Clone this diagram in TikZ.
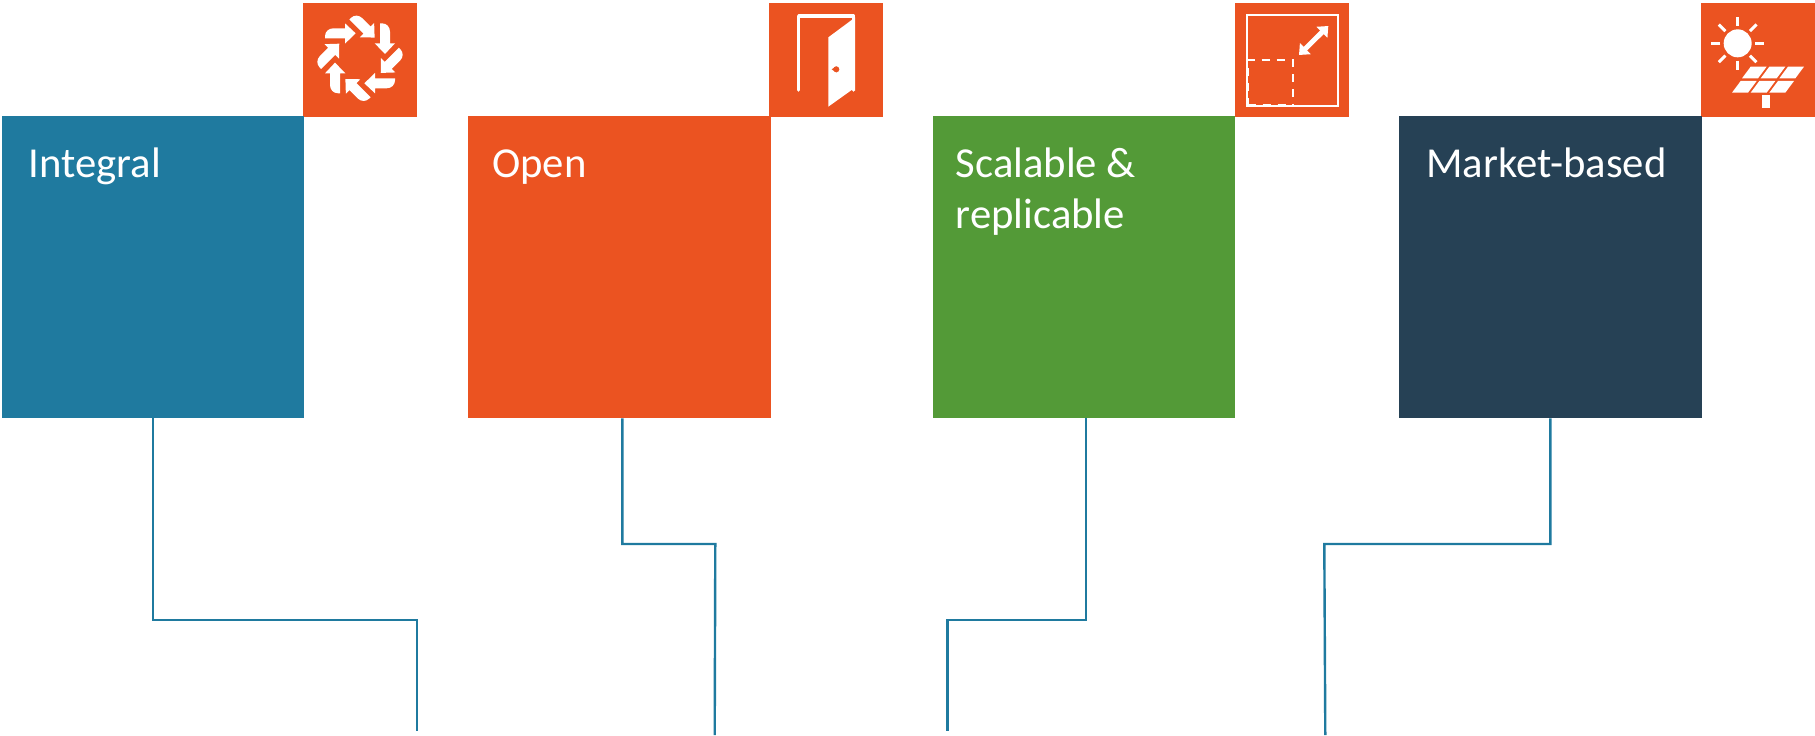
\documentclass[tikz,border=0pt]{standalone}
\usepackage{fontspec}
\setmainfont{Carlito}
\usetikzlibrary{arrows.meta}
\definecolor{cblue}{HTML}{1F7A9F}
\definecolor{corange}{HTML}{EB5321}
\definecolor{cgreen}{HTML}{539A37}
\definecolor{cnavy}{HTML}{264155}
\tikzset{
  pillar/.style={rectangle,draw=none,inner sep=0pt,minimum width=302.5pt,minimum height=302.5pt,anchor=north west},
  iconbox/.style={rectangle,fill=corange,draw=none,inner sep=0pt,minimum width=114pt,minimum height=114pt,anchor=north west},
  caption/.style={text=white,inner sep=0pt,anchor=base west,font=\fontsize{42.7pt}{51pt}\selectfont,align=left},
  wire/.style={draw=cblue,line width=2.4pt,line join=miter},
  ico/.style={x=0.3333pt,y=-0.3333pt},
}
\begin{document}
\begin{tikzpicture}[x=1pt,y=-1pt]
\useasboundingbox (0,0) rectangle (1815,736);
% icon boxes
\node[iconbox] (i1) at (303,3) {};
\node[iconbox] (i2) at (769,3) {};
\node[iconbox] (i3) at (1235,3) {};
\node[iconbox] (i4) at (1701,3) {};
% pillars
\node[pillar,fill=cblue] (s1) at (1.5,115.5) {};
\node[pillar,fill=corange] (s2) at (468,115.5) {};
\node[pillar,fill=cgreen] (s3) at (932.5,115.5) {};
\node[pillar,fill=cnavy] (s4) at (1399,115.5) {};
% captions
\node[caption] (t1) at (28.5,177) {Integral};
\node[caption] (t2) at (492,177) {Open};
\node[caption] (t3) at (955.5,228) {Scalable \&\\replicable};
\node[caption] (t4) at (1426,177) {Market-based};
% connectors
\coordinate (j1) at (153,620); \coordinate (k1) at (416.7,620); \coordinate (e1) at (416.7,731);
\coordinate (j2) at (622.3,544); \coordinate (k2) at (715.3,544); \coordinate (e2) at (714.7,735);
\coordinate (j3) at (1086,620); \coordinate (k3) at (947.3,620); \coordinate (e3) at (947.3,731);
\coordinate (j4) at (1550.3,544); \coordinate (k4) at (1324.3,544); \coordinate (e4) at (1325.3,735);
\draw[wire] (s1.south -| j1) -- (j1) -- (k1) -- (e1);
\draw[wire] (s2.south -| j2) -- (j2) -- (k2) -- (e2);
\draw[wire] (s3.south -| j3) -- (j3) -- (k3) -- (e3);
\draw[wire] (s4.south -| j4) -- (j4) -- (k4) -- (e4);
% icon 1: ring of arrows
\foreach \a in {0,45,...,315}{
  \begin{scope}[shift={(360,58.3)},rotate=\a,ico]
    \fill[white] (-13,-75) -- (-45,-44) -- (-45,-60) -- (-105,-60) -- (-105,-66)
      .. controls (-105,-80) and (-94,-90) .. (-80,-90) -- (-45,-90) -- (-45,-105) -- cycle;
  \end{scope}
}
% icon 2: door
\begin{scope}[shift={(760,0)},ico]
  \draw[white,line width=3.6pt,line cap=round,line join=round] (116,270) -- (116,48) -- (280,48) -- (280,270);
  \fill[white] (205,112) -- (275,60) -- (285,52) -- (285,272) -- (275,270) -- (205,320) -- cycle;
  \fill[corange] (229,208) circle[radius=9];
  \fill[corange] (215,208) -- (229,199) -- (229,217) -- cycle;
\end{scope}
% icon 3: scale
\begin{scope}[shift={(1225,0)},ico]
  \draw[white,line width=2pt] (65,44) rectangle (340,318);
  \draw[white,line width=2pt,dash pattern=on 8pt off 7pt] (68,318) -- (68,180) -- (203,180) -- (203,318);
  \draw[white,line width=2pt,dash pattern=on 8pt off 7pt] (68,316) -- (203,316);
  \draw[white,line width=5pt,{Triangle[length=9pt,width=15pt]}-{Triangle[length=9pt,width=15pt]}] (222,165) -- (310,78);
\end{scope}
% icon 4: sun and panel
\begin{scope}[shift={(1690,0)},ico]
  \fill[white] (143,130) circle[radius=42];
  \foreach \a in {0,45,...,315}{
    \draw[white,line width=3pt] (143,130) ++(\a:52) -- ++(\a:28);
  }
  \foreach \x in {182,238,294}{
    \fill[white] (\x,200) -- ++(48,0) -- ++(-26,35) -- ++(-48,0) -- cycle;
  }
  \foreach \x in {152,208,264}{
    \fill[white] (\x,243) -- ++(48,0) -- ++(-26,35) -- ++(-48,0) -- cycle;
  }
  \fill[white] (216,285) rectangle (240,323);
\end{scope}
\end{tikzpicture}
\end{document}
